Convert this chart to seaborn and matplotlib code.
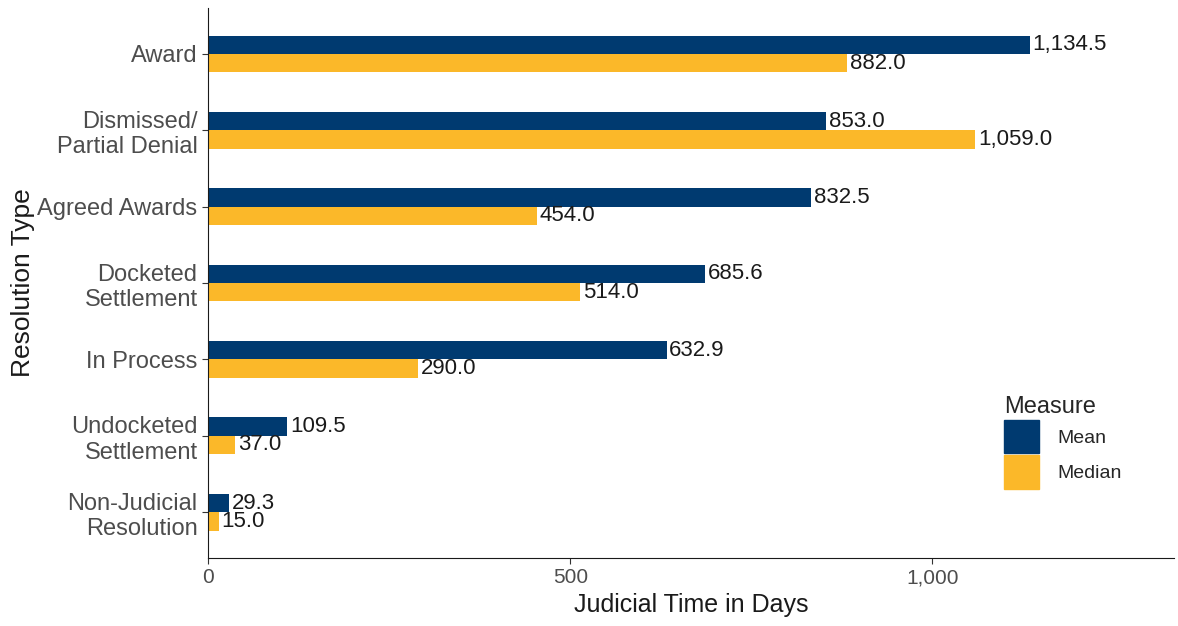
import numpy as np
import pandas as pd
import matplotlib.pyplot as plt
import matplotlib.patches as mpatches
import seaborn as sns

categories = ['Award', 'Dismissed/\nPartial Denial', 'Agreed Awards', 'Docketed\nSettlement',
              'In Process', 'Undocketed\nSettlement', 'Non-Judicial\nResolution']
mean_days = [1134.5, 853.0, 832.5, 685.6, 632.9, 109.5, 29.3]
median_days = [882.0, 1059.0, 454.0, 514.0, 290.0, 37.0, 15.0]
measures = ['Mean', 'Median']
colors = {'Mean': '#003A70', 'Median': '#FBB829'}

df = pd.DataFrame({'type': categories, 'Mean': mean_days, 'Median': median_days})
df = df.melt(id_vars='type', value_vars=measures, var_name='Measure', value_name='days')

sns.set_style("ticks")
plt.rcParams['font.family'] = ['Liberation Sans', 'DejaVu Sans']

fig = plt.figure(figsize=(11.78, 6.26), dpi=100)
ax = fig.add_axes([0.1766, 0.1086, 0.8204, 0.8784])

sns.barplot(data=df, y='type', x='days', hue='Measure', order=categories, hue_order=measures,
            palette=colors, width=0.48, orient='h', ax=ax, legend=False, saturation=1,
            linewidth=0, edgecolor='none', gap=0)

for cont in ax.containers:
    ax.bar_label(cont, labels=[f'{v:,.1f}' for v in cont.datavalues], padding=2,
                 fontsize=16, color='#1a1a1a')

ax.set_xlim(0, 1334)
ax.set_ylim(6.6, -0.6)
ax.set_xticks([0, 500, 1000])
ax.set_xticklabels(['0', '500', '1,000'])
ax.tick_params(axis='y', labelsize=17, colors='#4d4d4d', length=4, color='#333333')
ax.tick_params(axis='x', labelsize=15, colors='#4d4d4d', length=4, color='#333333')
ax.set_xlabel('Judicial Time in Days', fontsize=18, color='#1a1a1a', labelpad=4)
ax.set_ylabel('Resolution Type', fontsize=19, color='#1a1a1a', labelpad=2)
for s in ['top', 'right']:
    ax.spines[s].set_visible(False)
for s in ['left', 'bottom']:
    ax.spines[s].set_color('#1a1a1a')

handles = [mpatches.Patch(color=colors[m], label=m) for m in measures]
leg = ax.legend(handles=handles, title='Measure', loc='upper left', bbox_to_anchor=(0.81, 0.32),
                frameon=False, fontsize=14, title_fontsize=17, handlelength=1.8, handleheight=2.3,
                handletextpad=0.9, labelspacing=0.1, alignment='left', borderpad=0.2)

fig.savefig('out.png', dpi=100)
